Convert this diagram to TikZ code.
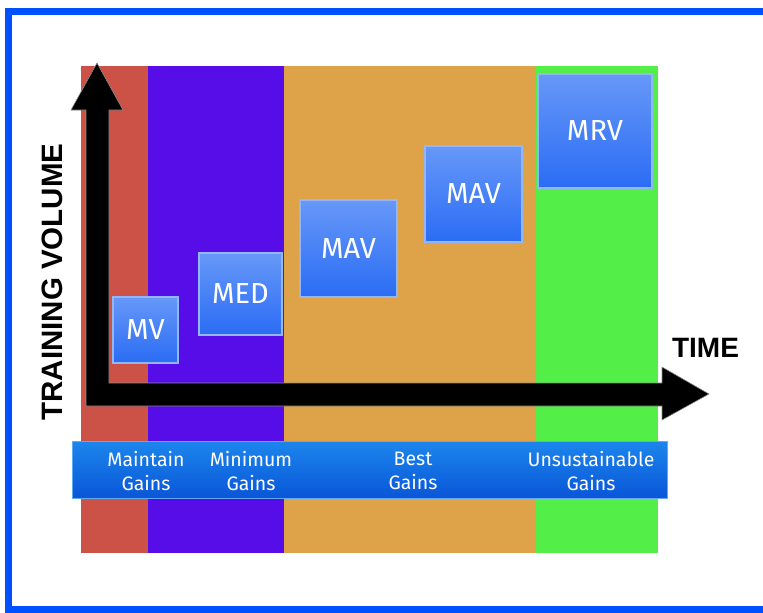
\documentclass[tikz,border=0pt]{standalone}
\usepackage{fontspec}
\newfontfamily\boxfont{Fira Sans}
\newfontfamily\axisfont{Liberation Sans}
\definecolor{frameblue}{HTML}{0050FF}
\definecolor{bandred}{HTML}{CC5248}
\definecolor{bandpurple}{HTML}{560DE8}
\definecolor{bandorange}{HTML}{DEA249}
\definecolor{bandgreen}{HTML}{53EE48}
\definecolor{boxtop}{HTML}{6798F8}
\definecolor{boxbot}{HTML}{2A6CF4}
\definecolor{boxedge}{HTML}{93B6F8}
\definecolor{bartop}{HTML}{1C86EC}
\definecolor{barbot}{HTML}{0A56D8}
\tikzset{
  vbox/.style={draw=boxedge, line width=1.2pt, top color=boxtop, bottom color=boxbot,
    text=white, font=\boxfont\fontsize{29}{30}\selectfont, inner sep=0pt, anchor=center},
  gainlabel/.style={text=white, font=\boxfont\fontsize{19.5}{24}\selectfont, align=center, anchor=center},
  axislabel/.style={text=black, font=\axisfont\bfseries\fontsize{29.5}{30}\selectfont, inner sep=0pt}
}
\begin{document}
\begin{tikzpicture}[x=1pt,y=-1pt]
\useasboundingbox (0,0) rectangle (763,613);
\clip (0,0) rectangle (763,613);
% frame
\draw[frameblue, line width=7pt] (8,11) rectangle (800,609);
% bands
\fill[bandred] (81,66) rectangle (148,553);
\fill[bandpurple] (148,66) rectangle (284,553);
\fill[bandorange] (284,66) rectangle (536,553);
\fill[bandgreen] (536,66) rectangle (658,553);
% boxes
\node[vbox, minimum width=65pt, minimum height=66pt] (mv) at (145.5,330) {MV};
\node[vbox, minimum width=83pt, minimum height=82pt] (med) at (240.5,294) {MED};
\node[vbox, minimum width=97pt, minimum height=97pt] (mav1) at (348.5,248.5) {MAV};
\node[vbox, minimum width=97pt, minimum height=96pt] (mav2) at (473.5,194) {MAV};
\node[vbox, minimum width=114pt, minimum height=114pt] (mrv) at (595,131) {MRV};
% axes
\filldraw[fill=black, draw=black!45, line width=0.6pt]
  (86,406) -- (86,110) -- (71,110) -- (97,63) -- (123,110) -- (109,110) -- (109,383)
  -- (662,383) -- (662,367) -- (709,394) -- (662,420) -- (662,406) -- cycle;
% axis labels
\node[axislabel, rotate=90] (ylab) at (52,282) {TRAINING VOLUME};
\node[axislabel, font=\axisfont\bfseries\fontsize{28}{30}\selectfont] (xlab) at (705.5,348) {TIME};
% gains bar
\shade[top color=bartop, bottom color=barbot, draw=bartop!70!white, line width=0.5pt] (72,441) rectangle (667,498);
\node[gainlabel] (g1) at (146,471) {Maintain\\Gains};
\node[gainlabel] (g2) at (251,471) {Minimum\\Gains};
\node[gainlabel] (g3) at (413,471) {Best\\Gains};
\node[gainlabel] (g4) at (591,471) {Unsustainable\\Gains};
\end{tikzpicture}
\end{document}
